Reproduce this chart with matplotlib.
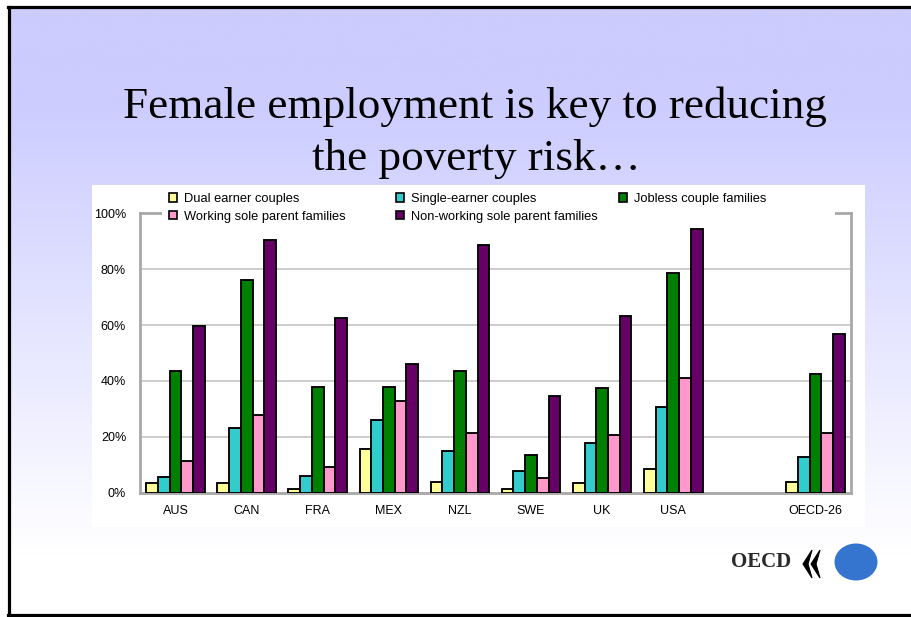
import matplotlib
matplotlib.use("Agg")
import matplotlib.pyplot as plt
import numpy as np
from matplotlib.lines import Line2D
from matplotlib.patches import Ellipse, Patch, Polygon, Rectangle

W, H = 912, 617

countries = ["AUS", "CAN", "FRA", "MEX", "NZL", "SWE", "UK", "USA", "OECD-26"]
series = [
    "Dual earner couples",
    "Single-earner couples",
    "Jobless couple families",
    "Working sole parent families",
    "Non-working sole parent families",
]
dual_earner = [3.4, 3.4, 1.2, 15.7, 4.0, 1.2, 3.4, 8.4, 4.0]
single_earner = [5.6, 23.0, 6.1, 25.9, 14.8, 7.8, 17.8, 30.8, 12.8]
jobless_couple = [43.7, 76.2, 38.0, 38.0, 43.7, 13.6, 37.4, 78.6, 42.5]
working_sole = [11.2, 27.8, 9.2, 32.9, 21.3, 5.4, 20.6, 40.9, 21.3]
nonworking_sole = [59.5, 90.6, 62.5, 46.1, 88.6, 34.7, 63.3, 94.5, 56.9]
colors = ["#FFFF99", "#33CCCC", "#008000", "#FF99CC", "#660066"]
yticks = [0, 20, 40, 60, 80, 100]

title_lines = ["Female employment is key to reducing", "the poverty risk\u2026"]


def px(x, y):
    """pixel position (origin top-left) -> figure fraction"""
    return x / W, 1 - y / H


fig = plt.figure(figsize=(W / 100, H / 100), dpi=100, facecolor="white")

# slide background: lavender fading to white
bg = fig.add_axes([0, 0, 1, 1], zorder=-10)
rows = np.arange(H)
t = np.clip((rows - 100) / 460, 0, 1)
top = np.array([204, 204, 255]) / 255
grad = top[None, :] * (1 - t[:, None]) + t[:, None]
bg.imshow(grad[:, None, :], aspect="auto", extent=(9.5, W, H - 6.5, 6.5), origin="upper")
bg.set_xlim(0, W)
bg.set_ylim(H, 0)
bg.axis("off")

# slide frame
for xs, ys in [((8, W), (6.5, 6.5)), ((9.5, 9.5), (6.5, 616)), ((8, W), (614.5, 614.5))]:
    p0 = px(xs[0], ys[0])
    p1 = px(xs[1], ys[1])
    fig.add_artist(Line2D([p0[0], p1[0]], [p0[1], p1[1]], color="black", lw=2.3,
                          transform=fig.transFigure))

# title
fig.text(*px(475, 118), title_lines[0], ha="center", va="baseline",
         family="Liberation Serif", fontsize=32.5, color="black")
fig.text(*px(476, 170), title_lines[1], ha="center", va="baseline",
         family="Liberation Serif", fontsize=32.5, color="black")

# white chart panel
x0, y0 = px(92, 527)
fig.add_artist(Rectangle((x0, y0), (865 - 92) / W, (527 - 185) / H,
                         transform=fig.transFigure, facecolor="white",
                         edgecolor="none", zorder=0))

ax = fig.add_axes([140 / W, 124.3 / H, 711 / W, 279.4 / H], zorder=1)
ax.set_facecolor("none")

pos = np.arange(len(countries), dtype=float)
pos[-1] += 1  # empty slot before the OECD average
width = 0.165
values = [dual_earner, single_earner, jobless_couple, working_sole, nonworking_sole]
for i, (vals, col) in enumerate(zip(values, colors)):
    ax.bar(pos + (i - 2) * width, vals, width, color=col, edgecolor="black",
           linewidth=1.35, zorder=3)

ax.set_xlim(-0.5, 9.5)
ax.set_ylim(0, 100)
ax.set_yticks(yticks)
ax.set_yticklabels([f"{v}%" for v in yticks])
ax.set_xticks(pos)
ax.set_xticklabels(countries)
ax.tick_params(length=0, labelsize=9, colors="black")
ax.tick_params(axis="y", pad=10)
ax.tick_params(axis="x", pad=9)
for lab in ax.get_xticklabels() + ax.get_yticklabels():
    lab.set_family("Liberation Sans")

ax.yaxis.grid(True, color="#C8C8C8", linewidth=1.3, zorder=1)
ax.set_axisbelow(True)
for side in ["left", "bottom", "right", "top"]:
    ax.spines[side].set_color("#A8A8A8")
    ax.spines[side].set_linewidth(2.0)

# legend backdrop hides the top edge of the plot frame
ax.add_patch(Rectangle((0.031, 0.962), 0.946, 0.14, transform=ax.transAxes,
                       facecolor="white", edgecolor="none", zorder=2.7,
                       clip_on=False))

handles = [Patch(facecolor=c, edgecolor="black", linewidth=1.2) for c in colors]
columns = [[0, 3], [1, 4], [2]]
col_x = [0.0408, 0.360, 0.674]
legends = []
for cx, idx in zip(col_x, columns):
    leg = ax.legend([handles[i] for i in idx], [series[i] for i in idx],
                    loc="upper left", bbox_to_anchor=(cx, 1.072), frameon=False,
                    borderpad=0, borderaxespad=0, handlelength=0.62,
                    handleheight=0.62, handletextpad=0.55, labelspacing=0.42,
                    prop={"family": "Liberation Sans", "size": 9.3})
    leg.set_zorder(4)
    legends.append(leg)
# the last one stays as ax.legend_, the others are kept as extra artists
for leg in legends[:-1]:
    ax.add_artist(leg)

# OECD logo
fig.text(*px(761, 562), "OECD", ha="center", va="center",
         family="Liberation Serif", fontweight="bold", fontsize=15,
         color="#2A2A2A")
for dx in (0, 8):
    pts = [(812 + dx, 550), (803 + dx, 564), (812 + dx, 578),
           (808 + dx, 564)]
    fig.add_artist(Polygon([px(*p) for p in pts], closed=True,
                           transform=fig.transFigure, facecolor="black",
                           edgecolor="black", linewidth=0.8))
fig.add_artist(Ellipse(px(856, 562), 43 / W, 37 / H, transform=fig.transFigure,
                       facecolor="#3575CF", edgecolor="none"))

fig.savefig("out.png", dpi=100, facecolor=fig.get_facecolor())
